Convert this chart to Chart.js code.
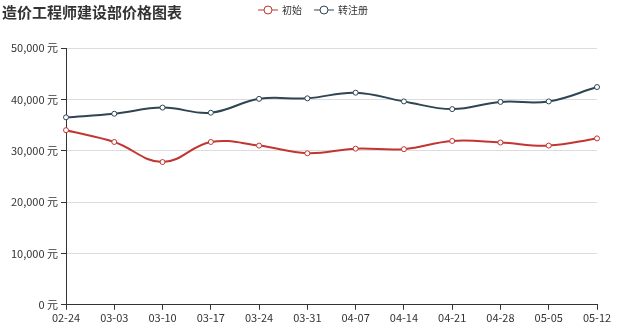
<!DOCTYPE html>
<html>
<head>
<meta charset="utf-8">
<script src="https://cdn.jsdelivr.net/npm/chart.js@4.4.0/dist/chart.umd.min.js"></script>
<style>
  html, body { margin: 0; padding: 0; background: #fff; }
  #wrap { width: 618px; height: 325px; }
</style>
</head>
<body>
<div id="wrap"><canvas id="priceChart" width="618" height="325"></canvas></div>
<script>
const weeks = ['02-24', '03-03', '03-10', '03-17', '03-24', '03-31', '04-07', '04-14', '04-21', '04-28', '05-05', '05-12'];
const initialPrice = [34000, 31700, 27800, 31700, 31000, 29500, 30400, 30300, 31900, 31600, 31000, 32400];
const transferPrice = [36500, 37200, 38400, 37400, 40100, 40200, 41300, 39600, 38100, 39500, 39600, 42400];
const seriesNames = ['初始', '转注册'];
const seriesColors = ['#c23531', '#2f4554'];

const font = '"Noto Sans CJK SC", "Noto Sans", sans-serif';

// title + echarts-like legend drawn by hand
const headerPlugin = {
  id: 'header',
  afterDraw(chart) {
    const ctx = chart.ctx;
    ctx.save();
    ctx.fillStyle = '#333';
    ctx.font = 'bold 15px ' + font;
    ctx.textBaseline = 'middle';
    ctx.textAlign = 'left';
    ctx.fillText('造价工程师建设部价格图表', 2, 12);

    let x = 258;
    const y = 10;
    ctx.font = '10px ' + font;
    seriesNames.forEach((name, i) => {
      ctx.strokeStyle = seriesColors[i];
      ctx.lineWidth = 1;
      ctx.beginPath();
      ctx.moveTo(x, y);
      ctx.lineTo(x + 20, y);
      ctx.stroke();
      ctx.beginPath();
      ctx.arc(x + 10, y, 4, 0, Math.PI * 2);
      ctx.fillStyle = '#fff';
      ctx.fill();
      ctx.stroke();
      ctx.fillStyle = '#333';
      ctx.fillText(name, x + 24, y);
      x += 24 + ctx.measureText(name).width + 12;
    });
    ctx.restore();
  }
};

new Chart(document.getElementById('priceChart'), {
  type: 'line',
  data: {
    labels: weeks,
    datasets: [
      {
        label: seriesNames[0],
        data: initialPrice,
        borderColor: seriesColors[0],
        backgroundColor: '#fff',
        pointBorderColor: seriesColors[0],
        borderWidth: 2,
        pointRadius: 2.5,
        pointBorderWidth: 1,
        tension: 0.4
      },
      {
        label: seriesNames[1],
        data: transferPrice,
        borderColor: seriesColors[1],
        backgroundColor: '#fff',
        pointBorderColor: seriesColors[1],
        borderWidth: 2,
        pointRadius: 2.5,
        pointBorderWidth: 1,
        tension: 0.4
      }
    ]
  },
  options: {
    responsive: false,
    animation: false,
    layout: { padding: { top: 48, right: 21, left: 0, bottom: 0 } },
    plugins: {
      legend: { display: false },
      title: { display: false },
      tooltip: { enabled: false }
    },
    scales: {
      x: {
        offset: false,
        grid: { drawOnChartArea: false, drawTicks: true, tickLength: 5, tickColor: '#333' },
        border: { color: '#333', width: 1 },
        ticks: { color: '#333', font: { size: 11, family: font }, padding: 1, maxRotation: 0, autoSkip: false }
      },
      y: {
        min: 0,
        max: 50000,
        afterFit(scale) { scale.width = 66; },
        grid: { color: '#dcdcdc', tickColor: '#333', tickLength: 5 },
        border: { color: '#333', width: 1 },
        ticks: {
          stepSize: 10000,
          color: '#333',
          padding: 3,
          font: { size: 11, family: font },
          callback: v => v.toLocaleString('en-US') + ' 元'
        }
      }
    }
  },
  plugins: [headerPlugin]
});
</script>
</body>
</html>
